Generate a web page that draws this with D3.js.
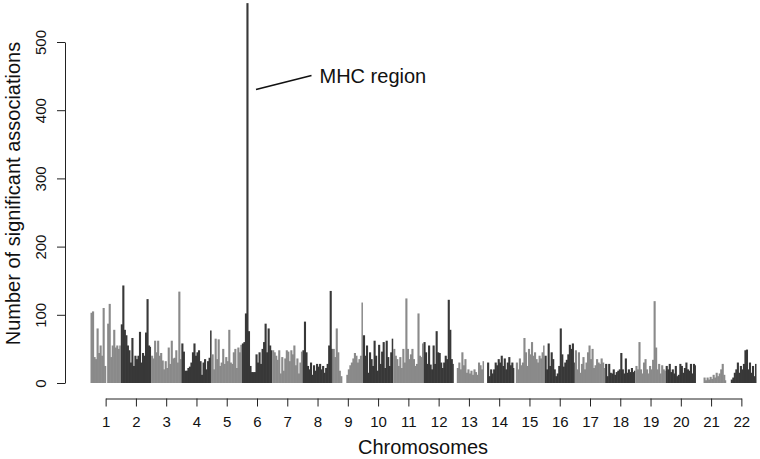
<!DOCTYPE html>
<html>
<head>
<meta charset="utf-8">
<script src="https://cdn.jsdelivr.net/npm/d3@7"></script>
<style>
  html, body { margin: 0; padding: 0; background: #fff; }
  svg { display: block; font-family: "Liberation Sans", Arial, Helvetica, sans-serif; }
</style>
</head>
<body>
<svg id="chart" width="760" height="459"></svg>
<script>
// ---- data ----
const chromosomes = d3.range(1, 23);
const yTicks = [0, 100, 200, 300, 400, 500];
const chr1  = [103,105,38,35,80,44,55,40,110,25,0,87,116,38,55,78,52,55,50,55];
const chr2  = [86,143,78,70,55,48,30,66,25,40,35,40,75,30,44,40,74,123,55,53];
const chr3  = [40,36,62,45,62,40,44,33,20,32,22,52,28,62,36,37,48,30,134,35];
const chr4  = [58,46,18,18,22,24,30,45,58,40,45,48,32,12,30,35,20,32,37,77];
const chr5  = [42,20,65,35,64,25,30,50,28,38,32,78,30,28,45,50,22,52,45,56];
const chr6  = [58,60,102,557,76,25,16,16,16,42,30,45,28,50,60,87,45,80,55,48];
const chr7  = [48,45,40,34,48,14,38,18,36,48,46,32,48,42,55,26,36,14,30,46];
const chr8  = [48,90,45,25,20,30,12,26,18,28,24,28,20,25,15,22,28,55,135,50];
const chr9  = [50,38,80,45,18,10,0,0,0,12,20,26,30,36,44,40,30,35,40,118];
const chr10 = [70,40,55,15,45,35,25,62,40,18,56,28,46,60,22,62,38,25,45,65];
const chr11 = [50,40,35,25,38,22,50,30,124,50,35,42,50,35,25,28,102,40,38,58];
const chr12 = [60,45,28,55,27,20,55,28,76,45,44,30,22,30,40,35,122,78,35,28];
const chr13 = [0,0,22,30,20,45,26,35,15,20,14,18,12,20,16,12,30,26,20,32];
const chr14 = [0,0,30,10,20,14,20,30,26,35,30,40,25,36,20,30,38,26,30,22];
const chr15 = [0,30,20,36,26,30,66,45,25,50,42,60,40,45,35,30,40,36,45,55];
const chr16 = [40,20,58,25,45,35,20,10,14,25,80,42,24,30,34,42,56,50,58,30];
const chr17 = [48,20,45,15,28,38,20,30,45,55,35,50,22,26,35,30,28,36,30,22];
const chr18 = [28,10,28,15,14,20,12,16,18,20,44,20,14,36,15,20,16,22,16,18];
const chr19 = [25,20,60,20,14,30,35,20,14,25,20,34,120,52,20,28,14,26,20,18];
const chr20 = [25,20,28,16,20,14,25,10,12,28,25,15,22,30,20,18,28,14,28,26];
const chr21 = [0,0,0,0,0,8,4,8,5,9,6,12,8,15,10,14,20,28,12,4];
const chr22 = [0,0,0,5,8,15,20,30,15,25,20,28,48,49,20,30,15,25,10,28];
const counts = [chr1,chr2,chr3,chr4,chr5,chr6,chr7,chr8,chr9,chr10,chr11,chr12,
                chr13,chr14,chr15,chr16,chr17,chr18,chr19,chr20,chr21,chr22];
const annotation = "MHC region";
const xTitle = "Chromosomes";
const yTitle = "Number of significant associations";

// ---- layout ----
const svg = d3.select("#chart");
const colors = ["#8a8a8a", "#383838"];

const xChr = d3.scaleBand().domain(chromosomes).range([90.5, 756.5]).padding(0);
const y = d3.scaleLinear().domain([0, 500]).range([383, 42]);

// bars
const bars = [];
counts.forEach((vals, ci) => {
  vals.forEach((v, bi) => bars.push({chr: chromosomes[ci], idx: bi, n: vals.length, v}));
});
const bw = xChr.bandwidth();
svg.append("g").selectAll("rect").data(bars).join("rect")
  .attr("x", d => xChr(d.chr) + d.idx * bw / d.n)
  .attr("width", d => bw / d.n + (d.idx < d.n - 1 ? 0.6 : 0))
  .attr("y", d => y(d.v))
  .attr("height", d => y(0) - y(d.v))
  .attr("fill", d => colors[(d.chr - 1) % 2]);

// y axis
const yAxis = svg.append("g").attr("transform", "translate(65,0)")
  .call(d3.axisLeft(y).tickValues(yTicks).tickSize(8).tickSizeOuter(0).tickPadding(0));
yAxis.select(".domain").attr("stroke", "#222").attr("stroke-width", 1);
yAxis.selectAll(".tick line").attr("stroke", "#222");
yAxis.selectAll(".tick text")
  .attr("x", null).attr("dy", null)
  .attr("transform", "translate(-19.5,0) rotate(-90)")
  .attr("text-anchor", "middle")
  .attr("font-size", 15)
  .attr("font-family", "Liberation Sans, Arial, sans-serif")
  .attr("fill", "#111");

// x axis
const xc = d3.scaleLinear().domain([1, 22])
  .range([xChr(1) + bw / 2, xChr(22) + bw / 2]);
const xAxis = svg.append("g").attr("transform", "translate(0,398.5)")
  .call(d3.axisBottom(xc).tickValues(chromosomes).tickFormat(d3.format("d"))
        .tickSize(8).tickSizeOuter(0).tickPadding(10));
xAxis.select(".domain").attr("stroke", "#222");
xAxis.selectAll(".tick line").attr("stroke", "#222");
xAxis.selectAll(".tick text")
  .attr("font-size", 15)
  .attr("font-family", "Liberation Sans, Arial, sans-serif")
  .attr("fill", "#111");

// titles
svg.append("text").attr("x", 423).attr("y", 453.5)
  .attr("text-anchor", "middle").attr("font-size", 20).attr("fill", "#111")
  .text(xTitle);
svg.append("text").attr("transform", "translate(19.5,193.5) rotate(-90)")
  .attr("text-anchor", "middle").attr("font-size", 20).attr("fill", "#111")
  .text(yTitle);

// annotation
svg.append("line").attr("x1", 256).attr("y1", 89.5).attr("x2", 311.5).attr("y2", 75.5)
  .attr("stroke", "#111").attr("stroke-width", 1.6);
svg.append("text").attr("x", 319.5).attr("y", 82.5)
  .attr("font-size", 20).attr("fill", "#111").text(annotation);
</script>
</body>
</html>
